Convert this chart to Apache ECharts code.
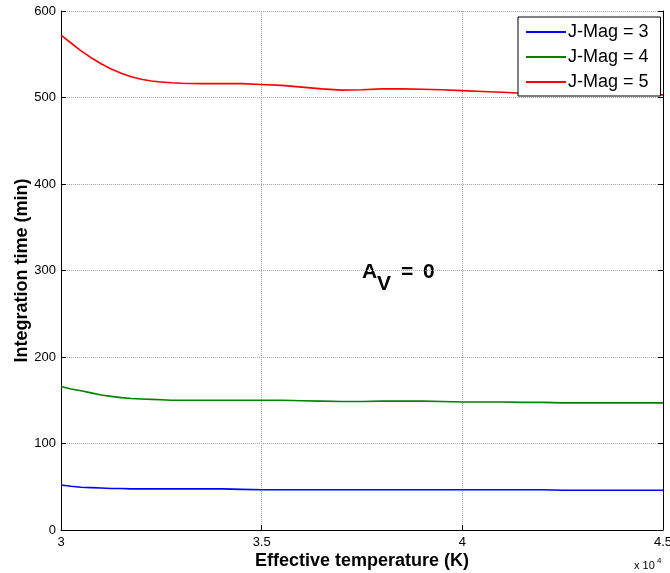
<!DOCTYPE html>
<html><head><meta charset="utf-8">
<script src="https://cdn.jsdelivr.net/npm/echarts@6/dist/echarts.min.js"></script>
<style>html,body{margin:0;padding:0;background:#fff}#c{width:670px;height:573px}</style>
</head><body><div id="c"></div>
<script>
var temps = [30000,30250,30500,30750,31000,31250,31500,31750,32000,32250,32500,32750,33000,33500,34000,34500,35000,35500,36000,36500,37000,37500,38000,38500,39000,39500,40000,40500,41000,41500,42000,42500,43000,43500,44000,44500,45000];
var jmag3 = [52,50.5,49.5,49,48.5,48,48,47.5,47.5,47.5,47.5,47.5,47.5,47.5,47.5,47,46.5,46.5,46.5,46.5,46.5,46.5,46.5,46.5,46.5,46.5,46.5,46.5,46.5,46.5,46.5,46,46,46,46,46,46];
var jmag4 = [166,163,161,158.5,156,154.5,153,152,151.5,151,150.5,150,150,150,150,150,150,150,149.5,149,148.5,148.5,149,149,149,148.5,148,148,148,147.5,147.5,147,147,147,147,147,147];
var jmag5 = [572,563,554,546,539,533,528,524,521,519,518,517,516.5,516,516,516,515,514,512,510,508.5,509,510,510,509.5,509,508,507,506,505,504.5,504,504,503.5,503.5,503,503];
var seriesNames = ['J-Mag = 3','J-Mag = 4','J-Mag = 5'];
var colors = ['#0000ff','#008000','#ff0000'];
var xTickLabels = {30000:'3',35000:'3.5',40000:'4',45000:'4.5'};

function pairs(ys){ return temps.map(function(t,i){ return [t, ys[i]]; }); }
var all = [jmag3, jmag4, jmag5];
var font = 'Arial, "Liberation Sans", sans-serif';
var chart = echarts.init(document.getElementById('c'));
var gridLine = {show:true, lineStyle:{color:'#a6a6a6', type:'dotted', width:1}};
chart.setOption({
  animation:false,
  grid:{left:61, right:7, top:11, bottom:43, outerBoundsMode:'none', containLabel:false},
  legend:{
    data:seriesNames, orient:'vertical', left:518, top:17,
    backgroundColor:'#fff', borderColor:'#000', borderWidth:1,
    padding:[6,12,5,8], icon:'rect', itemWidth:40, itemHeight:2, itemGap:7,
    textStyle:{fontFamily:font, fontSize:18, color:'#000', padding:[0,0,0,-3]}
  },
  xAxis:[{
    type:'value', min:30000, max:45000, interval:5000,
    axisLine:{onZero:false, lineStyle:{color:'#000', width:1}},
    axisTick:{inside:true, length:5, lineStyle:{color:'#000'}},
    axisLabel:{fontFamily:font, fontSize:13, color:'#000', margin:6, formatter:function(v){return xTickLabels[v]||'';}},
    splitLine:gridLine,
    name:'Effective temperature (K)', nameLocation:'middle', nameGap:22, nameMoveOverlap:false,
    nameTextStyle:{fontFamily:font, fontSize:18, fontWeight:'bold', color:'#000'}
  },{
    type:'value', position:'top', min:30000, max:45000, interval:5000,
    axisLine:{show:false}, axisTick:{show:false}, axisLabel:{show:false}, splitLine:{show:false}
  }],
  yAxis:[{
    type:'value', min:0, max:600, interval:100,
    axisLine:{onZero:false, lineStyle:{color:'#000', width:1}},
    axisTick:{inside:true, length:5, lineStyle:{color:'#000'}},
    axisLabel:{fontFamily:font, fontSize:13, color:'#000', margin:5},
    splitLine:gridLine,
    name:'Integration time (min)', nameLocation:'middle', nameGap:30, nameRotate:90, nameMoveOverlap:false,
    nameTextStyle:{fontFamily:font, fontSize:18, fontWeight:'bold', color:'#000'}
  },{
    type:'value', position:'right', min:0, max:600, interval:100,
    axisLine:{show:true, lineStyle:{color:'#000', width:1}},
    axisTick:{show:true, inside:true, length:5, lineStyle:{color:'#000'}},
    axisLabel:{show:false}, splitLine:{show:false}
  }],
  series: all.map(function(ys,i){
    return {name:seriesNames[i], type:'line', data:pairs(ys), showSymbol:false, symbol:'none',
      lineStyle:{color:colors[i], width:1.6}, itemStyle:{color:colors[i]}};
  }),
  graphic:[
    {type:'text', x:362, y:262, style:{text:'A', fontFamily:font, fontSize:21, fontWeight:'bold', fill:'#000', textVerticalAlign:'top'}},
    {type:'text', x:377, y:274, style:{text:'V', fontFamily:font, fontSize:21, fontWeight:'bold', fill:'#000', textVerticalAlign:'top'}},
    {type:'text', x:401, y:262, style:{text:'=', fontFamily:font, fontSize:21, fontWeight:'bold', fill:'#000', textVerticalAlign:'top'}},
    {type:'text', x:423, y:262, style:{text:'0', fontFamily:font, fontSize:21, fontWeight:'bold', fill:'#000', textVerticalAlign:'top'}},
    {type:'text', x:634, y:560, style:{text:'x 10', fontFamily:font, fontSize:11, fill:'#000', textVerticalAlign:'top'}},
    {type:'text', x:657, y:557, style:{text:'4', fontFamily:font, fontSize:8, fill:'#000', textVerticalAlign:'top'}}
  ]
});
</script></body></html>
